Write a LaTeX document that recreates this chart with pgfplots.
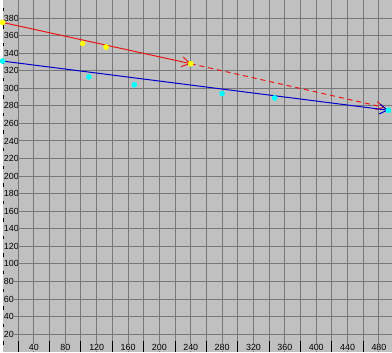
\documentclass[border=0pt]{standalone}
\usepackage{pgfplots}
\pgfplotsset{compat=1.18}
\usepackage{fontspec}
\setmainfont{Liberation Sans}
\usetikzlibrary{arrows.meta}
\definecolor{bg}{RGB}{192,192,192}
\definecolor{gridc}{RGB}{120,120,120}
\definecolor{lred}{RGB}{235,20,20}
\definecolor{lblue}{RGB}{0,0,205}
\definecolor{pyel}{RGB}{255,255,0}
\definecolor{pcyan}{RGB}{0,255,255}
\begin{document}
\begin{tikzpicture}
\begin{axis}[
  scale only axis, width=392bp, height=354bp,
  xmin=0, xmax=496, ymin=0, ymax=400,
  axis background/.style={fill=bg},
  axis line style={draw=none},
  xtick={40,80,...,480},
  ytick={20,40,...,380},
  grid=major,
  major grid style={gridc, line width=1bp},
  major tick length=0pt,
  tick label style={font=\fontsize{9}{9}\selectfont, fill=bg, inner sep=0.6bp},
  xticklabel style={anchor=south, yshift=0.3bp},
  yticklabel style={anchor=west, xshift=0.5bp},
  extra x ticks={20,60,...,460},
  extra x tick labels={},
  extra x tick style={grid=major, major tick length=11bp, major tick style={black, line width=1bp}, xticklabel style={fill=none}},
  minor ytick={10,30,...,390},
  minor tick length=1.5bp,
  minor y tick style={black, line width=3.5bp},
  ytick pos=left, xtick pos=bottom, tick align=inside,
  /pgf/number format/assume math mode=true,
]
\addplot[lred, line width=1bp, mark=none, -{Straight Barb[length=8bp,width=10bp]}] coordinates {(0,375) (240,328)};
\addplot[lred, line width=1bp, mark=none, dash pattern=on 5bp off 4bp, -{Straight Barb[length=8bp,width=8bp]}] coordinates {(240,328) (488,278)};
\addplot[lblue, line width=1bp, mark=none, -{Straight Barb[length=8bp,width=10bp]}] coordinates {(0,331) (492,275)};
\addplot[only marks, mark=*, mark size=2.6bp, mark options={draw=pyel, fill=pyel}] coordinates {(0,375) (102,351) (132,347) (240,328)};
\addplot[only marks, mark=*, mark size=2.6bp, mark options={draw=pcyan, fill=pcyan}] coordinates {(0,331) (110,313) (168,304) (280,294) (347,289) (492,275)};
\end{axis}
\end{tikzpicture}
\end{document}
